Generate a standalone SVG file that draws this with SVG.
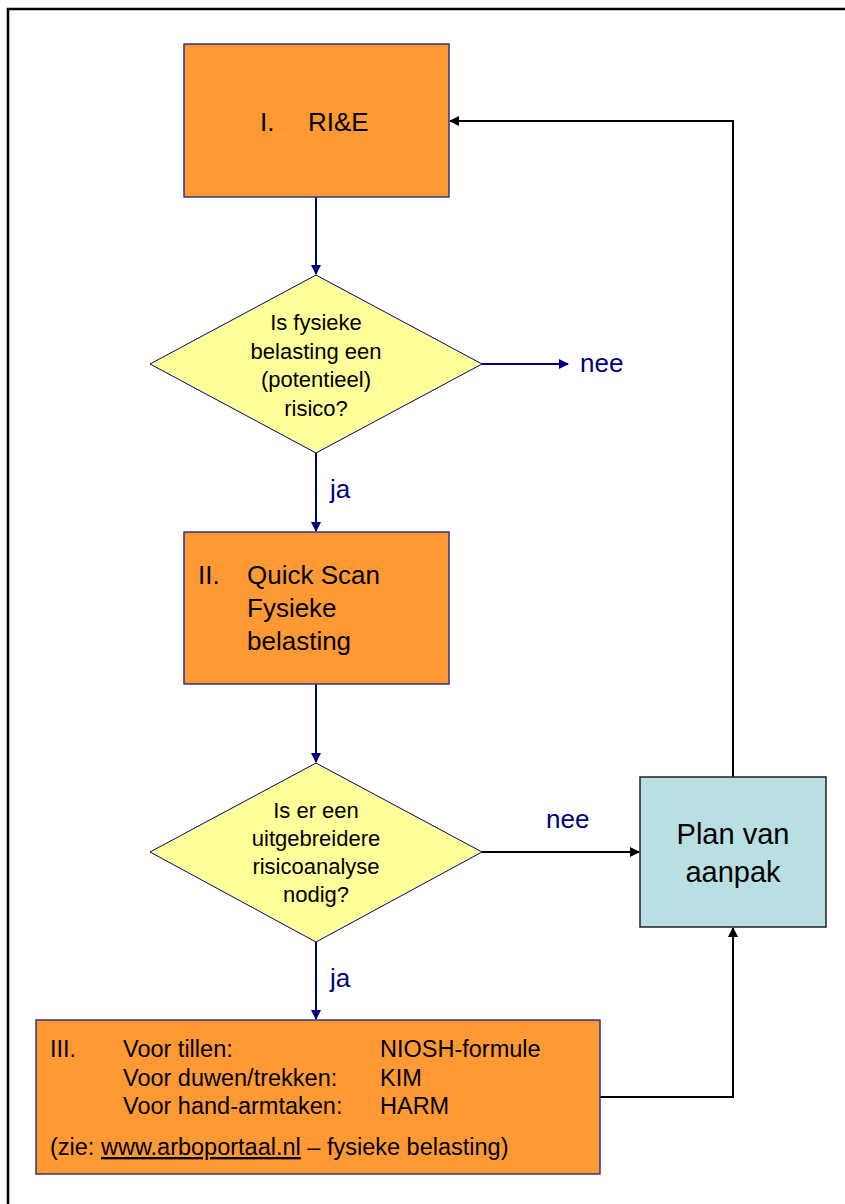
<svg xmlns="http://www.w3.org/2000/svg" width="845" height="1204" viewBox="0 0 845 1204">
<style>
text{font-family:"Liberation Sans",Arial,sans-serif;fill:#000}
.orange{fill:#FF9933;stroke:#333380;stroke-width:1.5}
.dia{fill:#FFFF99;stroke:#000080;stroke-width:1}
.plan{fill:#B8DFE2;stroke:#222;stroke-width:1.5}
.nv{fill:none;stroke:#000080;stroke-width:2}
.bk{fill:none;stroke:#000;stroke-width:2}
.lbl{fill:#000080;font-size:26px}
</style>
<defs>
<marker id="an" markerWidth="10" markerHeight="10" refX="9" refY="5" orient="auto" markerUnits="userSpaceOnUse"><path d="M0,0 L10,5 L0,10 z" fill="#000080"/></marker>
<marker id="ab" markerWidth="10" markerHeight="10" refX="9" refY="5" orient="auto" markerUnits="userSpaceOnUse"><path d="M0,0 L10,5 L0,10 z" fill="#000"/></marker>
</defs>
<rect width="845" height="1204" fill="#fff"/>
<path d="M8,1204 V9 H845" fill="none" stroke="#000" stroke-width="2.5"/>

<g id="connectors">
<path class="nv" d="M316,197 V274" marker-end="url(#an)"/>
<path class="nv" d="M482,364 H568" marker-end="url(#an)"/>
<path class="nv" d="M316,453 V531" marker-end="url(#an)"/>
<path class="nv" d="M316,684 V762" marker-end="url(#an)"/>
<path class="nv" d="M316,942 V1019" marker-end="url(#an)"/>
<path class="bk" d="M482,852 H639" marker-end="url(#ab)"/>
<path class="bk" d="M600,1097 H733 V928" marker-end="url(#ab)"/>
<path class="bk" d="M733,777 V121 H450" marker-end="url(#ab)"/>
<text class="lbl" x="580" y="372">nee</text>
<text class="lbl" x="546" y="828">nee</text>
<text class="lbl" x="330" y="498">ja</text>
<text class="lbl" x="330" y="987">ja</text>
</g>

<g id="n1">
<rect class="orange" x="184" y="44" width="265" height="153"/>
<text x="260" y="131" font-size="26">I.</text>
<text x="308" y="131" font-size="26">RI&amp;E</text>
</g>

<g id="d1">
<polygon class="dia" points="316,275 482,364 316,453 150,364"/>
<text x="316" text-anchor="middle" font-size="22"><tspan x="316" y="330">Is fysieke</tspan><tspan x="316" y="359">belasting een</tspan><tspan x="316" y="387">(potentieel)</tspan><tspan x="316" y="416">risico?</tspan></text>
</g>

<g id="n2">
<rect class="orange" x="184" y="532" width="265" height="152"/>
<text x="198" y="584" font-size="26">II.</text>
<text font-size="26"><tspan x="247" y="584">Quick Scan</tspan><tspan x="247" y="617">Fysieke</tspan><tspan x="247" y="650">belasting</tspan></text>
</g>

<g id="d2">
<polygon class="dia" points="316,763 482,852 316,942 150,852"/>
<text text-anchor="middle" font-size="22"><tspan x="316" y="818">Is er een</tspan><tspan x="316" y="846">uitgebreidere</tspan><tspan x="316" y="874">risicoanalyse</tspan><tspan x="316" y="902">nodig?</tspan></text>
</g>

<g id="plan">
<rect class="plan" x="640" y="777" width="186" height="150"/>
<text text-anchor="middle" font-size="29"><tspan x="733" y="844">Plan van</tspan><tspan x="733" y="882">aanpak</tspan></text>
</g>

<g id="n3">
<rect class="orange" x="36" y="1020" width="564" height="154"/>
<g font-size="23.5">
<text x="50" y="1057">III.</text>
<text x="123" y="1057">Voor tillen:</text>
<text x="123" y="1086">Voor duwen/trekken:</text>
<text x="123" y="1114">Voor hand-armtaken:</text>
<text x="380" y="1057">NIOSH-formule</text>
<text x="380" y="1086">KIM</text>
<text x="380" y="1114">HARM</text>
<text x="50" y="1155">(zie: <tspan text-decoration="underline">www.arboportaal.nl</tspan> – fysieke belasting)</text>
</g>
</g>
</svg>
